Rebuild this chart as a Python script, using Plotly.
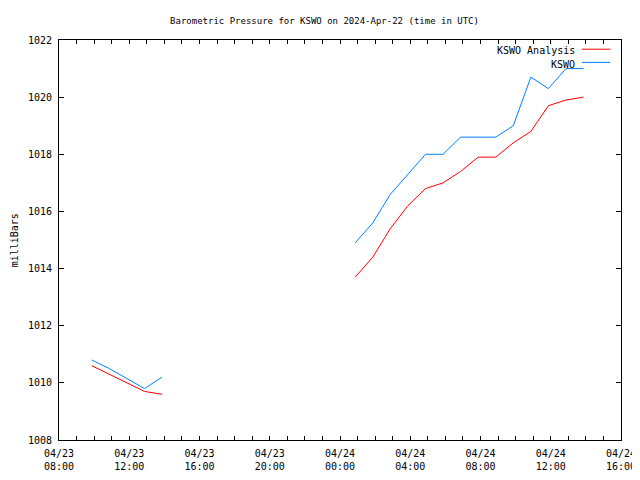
import plotly.graph_objects as go

# ---- data ----
times_seg1 = ["2024-04-23 09:52", "2024-04-23 10:52", "2024-04-23 11:52",
              "2024-04-23 12:52", "2024-04-23 13:52"]
times_seg2 = ["2024-04-24 00:52", "2024-04-24 01:52", "2024-04-24 02:52",
              "2024-04-24 03:52", "2024-04-24 04:52", "2024-04-24 05:52",
              "2024-04-24 06:52", "2024-04-24 07:52", "2024-04-24 08:52",
              "2024-04-24 09:52", "2024-04-24 10:52", "2024-04-24 11:52",
              "2024-04-24 12:52", "2024-04-24 13:52"]
gap_time = "2024-04-23 19:00"

analysis_seg1 = [1010.6, 1010.3, 1010.0, 1009.7, 1009.6]
analysis_seg2 = [1013.7, 1014.4, 1015.4, 1016.2, 1016.8, 1017.0, 1017.4,
                 1017.9, 1017.9, 1018.4, 1018.8, 1019.7, 1019.9, 1020.0]
obs_seg1 = [1010.8, 1010.5, 1010.15, 1009.8, 1010.2]
obs_seg2 = [1014.9, 1015.6, 1016.6, 1017.3, 1018.0, 1018.0, 1018.6,
            1018.6, 1018.6, 1019.0, 1020.7, 1020.3, 1021.0, 1021.0]

series_names = ["KSWO Analysis", "KSWO"]
series_colors = ["#ff0000", "#0080ff"]

x_all = times_seg1 + [gap_time] + times_seg2
analysis_all = analysis_seg1 + [None] + analysis_seg2
obs_all = obs_seg1 + [None] + obs_seg2

FONT = "DejaVu Sans Mono"

fig = go.Figure()
for name, ys, col in zip(series_names, [analysis_all, obs_all], series_colors):
    fig.add_trace(go.Scatter(x=x_all, y=ys, mode="lines", name=name,
                             line=dict(color=col, width=1),
                             connectgaps=False, showlegend=False))

# custom gnuplot-style legend (text right, line sample on the right)
leg_y_text = [0.973, 0.940]
leg_y_line = [0.977, 0.944]
for name, col, yt, yl in zip(series_names, series_colors, leg_y_text, leg_y_line):
    fig.add_annotation(xref="paper", yref="paper", x=0.921, y=yt, text=name,
                       showarrow=False, xanchor="right", yanchor="middle",
                       font=dict(family=FONT, size=10, color="black"))
    fig.add_shape(type="line", xref="paper", yref="paper", x0=0.9306, x1=0.981,
                  y0=yl, y1=yl, line=dict(color=col, width=1))

# y-axis title as gnuplot-like rotated label
fig.add_annotation(xref="paper", yref="paper", x=-0.0795, y=0.5, text="milliBars",
                   textangle=-90, showarrow=False, xanchor="center", yanchor="middle",
                   font=dict(family=FONT, size=10, color="black"))

# the page adds an 8px body margin, so margins are offset to compensate
fig.update_layout(
    width=640, height=480,
    margin=dict(l=51, r=27, t=32, b=48, autoexpand=False),
    paper_bgcolor="white", plot_bgcolor="white",
    font=dict(family=FONT, size=10, color="black"),
    title=dict(text="Barometric Pressure for KSWO on 2024-Apr-22 (time in UTC)",
               xref="container", yref="container",
               x=0.4945, xanchor="center", y=0.973, yanchor="middle",
               font=dict(family=FONT, size=9, color="black")),
)

fig.update_xaxes(
    type="date",
    range=["2024-04-23 08:00", "2024-04-24 16:00"],
    tick0="2024-04-23 08:00", dtick=4 * 3600 * 1000,
    tickformat="%m/%d<br>%H:%M",
    ticks="inside", ticklen=4, tickcolor="black", ticklabelstandoff=4,
    minor=dict(dtick=3600 * 1000, ticks="inside", ticklen=4, tickcolor="black"),
    showline=True, linecolor="black", linewidth=1, mirror="ticks",
    showgrid=False, zeroline=False, automargin=False,
    tickfont=dict(family=FONT, size=10, color="black"),
)
fig.update_yaxes(
    range=[1008, 1022], dtick=2, tick0=1008,
    ticks="inside", ticklen=5, tickcolor="black", ticklabelstandoff=4,
    showline=True, linecolor="black", linewidth=1, mirror="ticks",
    showgrid=False, zeroline=False, automargin=False,
    tickfont=dict(family=FONT, size=10, color="black"),
)

fig.write_html("out.html")
